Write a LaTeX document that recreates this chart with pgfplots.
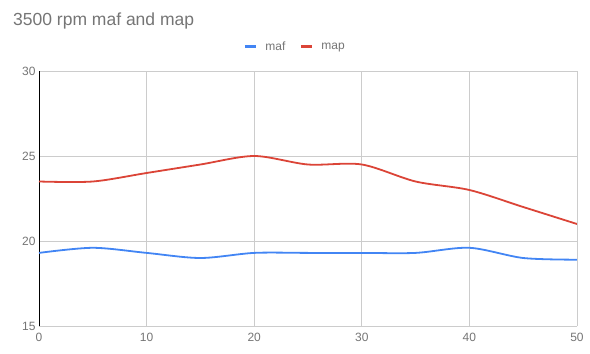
\documentclass[border=0pt]{standalone}
\usepackage{pgfplots}
\pgfplotsset{compat=1.18}
\usepackage{fontspec}
\setmainfont{Liberation Sans}
\definecolor{mafblue}{HTML}{4285F4}
\definecolor{mapred}{HTML}{DB4437}
\definecolor{txtgray}{HTML}{757575}
\definecolor{gridgray}{HTML}{CCCCCC}
\begin{document}
\begin{tikzpicture}[x=1pt,y=1pt]
\useasboundingbox (0,0) rectangle (590,354);
\node[anchor=base west, text=txtgray, font=\fontsize{17.5}{20}\selectfont, inner sep=0] at (13,328) {3500 rpm maf and map};
\begin{axis}[
  at={(39pt,28pt)}, anchor=south west,
  scale only axis, width=538pt, height=255pt,
  xmin=0, xmax=50, ymin=15, ymax=30,
  xtick={0,10,...,50}, ytick={15,20,25,30},
  major tick length=0pt,
  grid=major, grid style={gridgray, line width=0.8pt},
  axis x line=bottom, axis y line=left,
  axis line style={-},
  x axis line style={gridgray, line width=0.8pt},
  y axis line style={black, line width=0.8pt},
  /pgf/number format/assume math mode=true,
  tick label style={font=\fontsize{12}{14}\selectfont, text=txtgray},
  xticklabel style={yshift=-4pt},
  legend style={at={(rel axis cs:0.476,1)}, yshift=24pt, anchor=center, draw=none, fill=none,
    font=\fontsize{12}{14}\selectfont, text=txtgray,
    /tikz/every odd column/.append style={column sep=6pt},
    /tikz/every even column/.append style={column sep=12pt}},
  legend columns=2,
  legend image code/.code={\draw[line width=3pt] (0pt,0pt) -- (11pt,0pt);},
]
\addplot[mafblue, line width=1.8pt, smooth] coordinates {
(0,19.3) (5,19.6) (10,19.3) (15,19.0) (20,19.3) (25,19.3) (30,19.3) (35,19.3) (40,19.6) (45,19.0) (50,18.9)};
\addlegendentry{maf}
\addplot[mapred, line width=1.8pt, smooth] coordinates {
(0,23.5) (5,23.5) (10,24.0) (15,24.5) (20,25.0) (25,24.5) (30,24.5) (35,23.5) (40,23.0) (45,22.0) (50,21.0)};
\addlegendentry{map}
\end{axis}
\end{tikzpicture}
\end{document}
